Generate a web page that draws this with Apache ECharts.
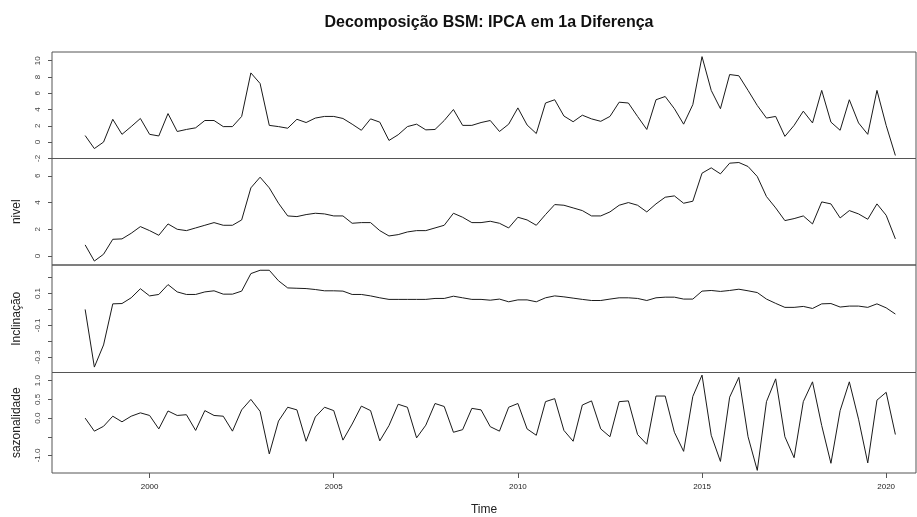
<!DOCTYPE html>
<html>
<head>
<meta charset="utf-8">
<script src="https://cdn.jsdelivr.net/npm/echarts@6/dist/echarts.min.js"></script>
<style>
  html, body { margin: 0; padding: 0; background: #fff; }
  #chart { width: 917px; height: 517px; }
</style>
</head>
<body>
<div id="chart"></div>
<script>
// quarterly series, starts 1998 Q2
const startYear = 1998.25
const freq = 4

const observado = [
  0.8, -0.8, 0.0, 2.8, 0.95, 1.9, 2.9, 0.95, 0.75, 3.5,
  1.3, 1.55, 1.75, 2.65, 2.65, 1.9, 1.9, 3.15, 8.5, 7.2,
  2.05, 1.9, 1.7, 2.8, 2.4, 2.95, 3.15, 3.15, 2.9, 2.2,
  1.45, 2.85, 2.45, 0.2, 0.9, 1.9, 2.2, 1.5, 1.55, 2.65,
  4.0, 2.05, 2.05, 2.4, 2.65, 1.3, 2.2, 4.2, 2.1, 1.05,
  4.8, 5.2, 3.2, 2.5, 3.3, 2.85, 2.55, 3.15, 4.9, 4.8,
  3.15, 1.55, 5.2, 5.6, 4.1, 2.2, 4.6, 10.5, 6.35, 4.1,
  8.3, 8.15, 6.35, 4.5, 2.95, 3.15, 0.7, 2.05, 3.8, 2.35,
  6.35, 2.45, 1.45, 5.2, 2.35, 0.95, 6.35, 2.05, -1.65
]

const nivel = [
  0.83, -0.38, 0.13, 1.25, 1.28, 1.7, 2.2, 1.9, 1.55, 2.4,
  2.0, 1.9, 2.1, 2.3, 2.5, 2.3, 2.3, 2.7, 5.1, 5.9,
  5.1, 3.95, 3.0, 2.95, 3.1, 3.2, 3.15, 3.0, 3.0, 2.45,
  2.5, 2.5, 1.9, 1.5, 1.6, 1.8, 1.9, 1.9, 2.1, 2.3,
  3.2, 2.9, 2.5, 2.5, 2.6, 2.45, 2.1, 2.9, 2.7, 2.3,
  3.1, 3.85, 3.8, 3.6, 3.4, 3.0, 3.0, 3.3, 3.8, 4.0,
  3.8, 3.3, 3.9, 4.4, 4.5, 3.95, 4.1, 6.2, 6.6, 6.15,
  6.95, 7.0, 6.7, 5.95, 4.45, 3.6, 2.65, 2.8, 3.0, 2.4,
  4.05, 3.9, 2.85, 3.4, 3.15, 2.75, 3.9, 3.05, 1.28
]

const inclinacao = [
  0.0, -0.362, -0.223, 0.035, 0.037, 0.073, 0.13, 0.085, 0.094, 0.156,
  0.11, 0.094, 0.094, 0.11, 0.117, 0.096, 0.096, 0.115, 0.225, 0.246,
  0.246, 0.18, 0.135, 0.133, 0.131, 0.125, 0.117, 0.117, 0.115, 0.094,
  0.094, 0.085, 0.073, 0.063, 0.063, 0.063, 0.063, 0.063, 0.069, 0.069,
  0.083, 0.073, 0.063, 0.063, 0.058, 0.065, 0.048, 0.06, 0.06, 0.048,
  0.073, 0.085, 0.079, 0.071, 0.063, 0.056, 0.056, 0.065, 0.073, 0.073,
  0.069, 0.056, 0.073, 0.077, 0.077, 0.065, 0.065, 0.115, 0.119, 0.113,
  0.119, 0.127, 0.117, 0.106, 0.065, 0.038, 0.013, 0.013, 0.019, 0.006,
  0.035, 0.037, 0.015, 0.021, 0.021, 0.013, 0.035, 0.01, -0.029
]

const sazonalidade = [
  0.0, -0.35, -0.22, 0.05, -0.1, 0.05, 0.14, 0.07, -0.29, 0.19,
  0.07, 0.09, -0.33, 0.2, 0.07, 0.05, -0.35, 0.22, 0.5, 0.18,
  -0.96, -0.08, 0.29, 0.22, -0.62, 0.03, 0.29, 0.2, -0.59, -0.16,
  0.32, 0.2, -0.61, -0.2, 0.37, 0.29, -0.53, -0.19, 0.39, 0.31,
  -0.38, -0.31, 0.26, 0.22, -0.23, -0.35, 0.29, 0.39, -0.29, -0.46,
  0.44, 0.52, -0.33, -0.62, 0.35, 0.46, -0.29, -0.5, 0.44, 0.46,
  -0.44, -0.7, 0.59, 0.59, -0.38, -0.89, 0.58, 1.15, -0.46, -1.16,
  0.56, 1.09, -0.5, -1.4, 0.44, 1.05, -0.5, -1.06, 0.44, 0.97,
  -0.2, -1.21, 0.2, 0.97, -0.03, -1.2, 0.48, 0.69, -0.44
]

// tick positions / labels
const timeTicks = [2000, 2005, 2010, 2015, 2020]
const obsTicks = [-2, 0, 2, 4, 6, 8, 10]
const nivelTicks = [0, 2, 4, 6]
const inclTicks = [-0.3, -0.2, -0.1, 0.0, 0.1, 0.2]
const inclLabels = [-0.3, -0.1, 0.1]
const sazTicks = [-1.0, -0.5, 0.0, 0.5, 1.0]
const sazLabels = [-1.0, 0.0, 0.5, 1.0]

const times = observado.map((_, i) => startYear + i / freq)
const pairs = vals => vals.map((v, i) => [times[i], v])

const FONT = 'Liberation Sans'
const frame = '#555'

const panels = [
  { name: '', data: observado, min: -2.02, max: 11.07, ticks: obsTicks, labels: obsTicks, fmt: v => String(v), top: 52, height: 106.5 },
  { name: 'nivel', data: nivel, min: -0.675, max: 7.3, ticks: nivelTicks, labels: nivelTicks, fmt: v => String(v), top: 158.5, height: 106.5 },
  { name: 'Inclinação', data: inclinacao, min: -0.396, max: 0.279, ticks: inclTicks, labels: inclLabels, fmt: v => v.toFixed(1), top: 265, height: 107.5 },
  { name: 'sazonalidade', data: sazonalidade, min: -1.47, max: 1.22, ticks: sazTicks, labels: sazLabels, fmt: v => v.toFixed(1), top: 372.5, height: 105.5 }
]

const chart = echarts.init(document.getElementById('chart'), null, { renderer: 'canvas' })

const option = {
  animation: false,
  backgroundColor: '#fff',
  title: {
    text: 'Decomposição BSM: IPCA em 1a Diferença',
    left: 484,
    textAlign: 'center',
    top: 10,
    textStyle: { fontFamily: FONT, fontSize: 16, fontWeight: 'bold', color: '#111' }
  },
  grid: panels.map(p => ({
    left: 52, right: 1, top: p.top, height: p.height,
    show: true, borderColor: frame, borderWidth: 1, backgroundColor: 'transparent'
  })),
  xAxis: panels.map((p, k) => {
    const last = k === panels.length - 1
    return {
      type: 'value',
      gridIndex: k,
      min: 1997.35,
      max: 2020.81,
      splitLine: { show: false },
      axisLine: { show: false, onZero: false },
      axisTick: { show: last, length: 5, lineStyle: { color: frame }, customValues: timeTicks },
      axisLabel: {
        show: last, customValues: timeTicks, margin: 10,
        formatter: v => String(v),
        fontFamily: FONT, fontSize: 8, color: '#222'
      },
      name: last ? 'Time' : '',
      nameLocation: 'middle',
      nameGap: 31,
      nameTextStyle: { fontFamily: FONT, fontSize: 12, color: '#222' }
    }
  }),
  yAxis: panels.map((p, k) => ({
    type: 'value',
    gridIndex: k,
    min: p.min,
    max: p.max,
    splitLine: { show: false },
    axisLine: { show: false, onZero: false },
    axisTick: { show: true, length: 4, lineStyle: { color: frame }, customValues: p.ticks },
    axisLabel: {
      customValues: p.labels, rotate: 90, margin: 10,
      formatter: p.fmt,
      fontFamily: FONT, fontSize: 8, color: '#444'
    },
    name: p.name,
    nameLocation: 'middle',
    nameRotate: 90,
    nameGap: 29,
    nameTextStyle: { fontFamily: FONT, fontSize: 12, color: '#222' }
  })),
  series: panels.map((p, k) => ({
    type: 'line',
    xAxisIndex: k,
    yAxisIndex: k,
    data: pairs(p.data),
    showSymbol: false,
    silent: true,
    lineStyle: { color: '#1a1a1a', width: 1 }
  }))
}

chart.setOption(option)
</script>
</body>
</html>
